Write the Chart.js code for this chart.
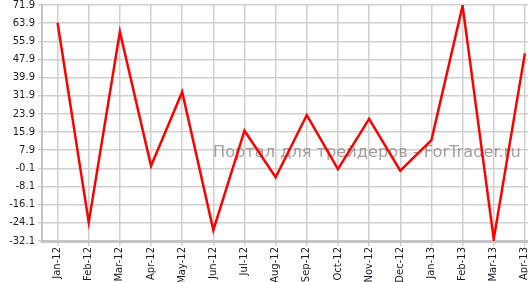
<!DOCTYPE html>
<html>
<head>
<meta charset="utf-8">
<script src="https://cdn.jsdelivr.net/npm/chart.js@4"></script>
<style>
  html, body { margin: 0; padding: 0; background: #fff; overflow: hidden; }
  #wrap { width: 528px; height: 282px; }
</style>
</head>
<body>
<div id="wrap"><canvas id="chart"></canvas></div>
<script>
// data
const months = ['Jan-12', 'Feb-12', 'Mar-12', 'Apr-12', 'May-12', 'Jun-12', 'Jul-12', 'Aug-12',
                'Sep-12', 'Oct-12', 'Nov-12', 'Dec-12', 'Jan-13', 'Feb-13', 'Mar-13', 'Apr-13'];
const values = [64.1, -23.9, 60.1, 1.0, 33.6, -27.3, 16.5, -4.0,
                23.4, -0.4, 21.7, -1.1, 12.4, 71.6, -31.3, 50.6];
const yTicks = [71.9, 63.9, 55.9, 47.9, 39.9, 31.9, 23.9, 15.9, 7.9, -0.1, -8.1, -16.1, -24.1, -32.1];
const watermark = 'Портал для трейдеров - ForTrader.ru';

const gridColor = '#d0d0d0';
const axisColor = '#c4c4c4';
const font = '"DejaVu Sans", Verdana, sans-serif';

const watermarkPlugin = {
    id: 'watermark',
    beforeDatasetsDraw(chart) {
        const ctx = chart.ctx;
        ctx.save();
        // fit the text to the width it has in the picture
        ctx.font = '17px ' + font;
        const size = 17 * 308 / ctx.measureText(watermark).width;
        ctx.font = size.toFixed(2) + 'px ' + font;
        ctx.fillStyle = 'rgba(140, 125, 125, 0.75)';
        ctx.fillText(watermark, 213, 157);
        ctx.restore();
    }
};

new Chart(document.getElementById('chart'), {
    type: 'line',
    data: {
        datasets: [{
            data: values.map((v, i) => ({ x: i, y: v })),
            borderColor: '#ff0000',
            borderWidth: 2.5,
            pointRadius: 0,
            tension: 0,
            fill: false
        }]
    },
    options: {
        responsive: true,
        maintainAspectRatio: false,
        animation: false,
        layout: { padding: { top: 5, right: 0, left: 0, bottom: 0 } },
        plugins: {
            legend: { display: false },
            tooltip: { enabled: false }
        },
        scales: {
            x: {
                type: 'linear',
                min: -0.5,
                max: 15.1,
                afterBuildTicks: s => { s.ticks = months.map((m, i) => ({ value: i })); },
                afterFit: s => { s.paddingRight = 0; s.paddingLeft = 0; s.height = 41; },
                grid: { color: gridColor, lineWidth: 1.5, tickLength: 5 },
                border: { color: axisColor, width: 3 },
                ticks: {
                    autoSkip: false,
                    minRotation: 90,
                    maxRotation: 90,
                    padding: 1,
                    color: '#1a1a2a',
                    font: { family: font, size: 10 },
                    callback: v => months[v]
                }
            },
            y: {
                min: -32.1,
                max: 71.9,
                afterBuildTicks: s => { s.ticks = yTicks.map(v => ({ value: v })); },
                afterFit: s => { s.width = 42; s.paddingTop = 0; s.paddingBottom = 0; },
                grid: { color: gridColor, lineWidth: 1.5, tickLength: 4 },
                border: { color: axisColor, width: 2 },
                ticks: {
                    padding: 3,
                    color: '#1a1a2a',
                    font: { family: font, size: 10 },
                    callback: v => v.toFixed(1)
                }
            }
        }
    },
    plugins: [watermarkPlugin]
});
</script>
</body>
</html>
